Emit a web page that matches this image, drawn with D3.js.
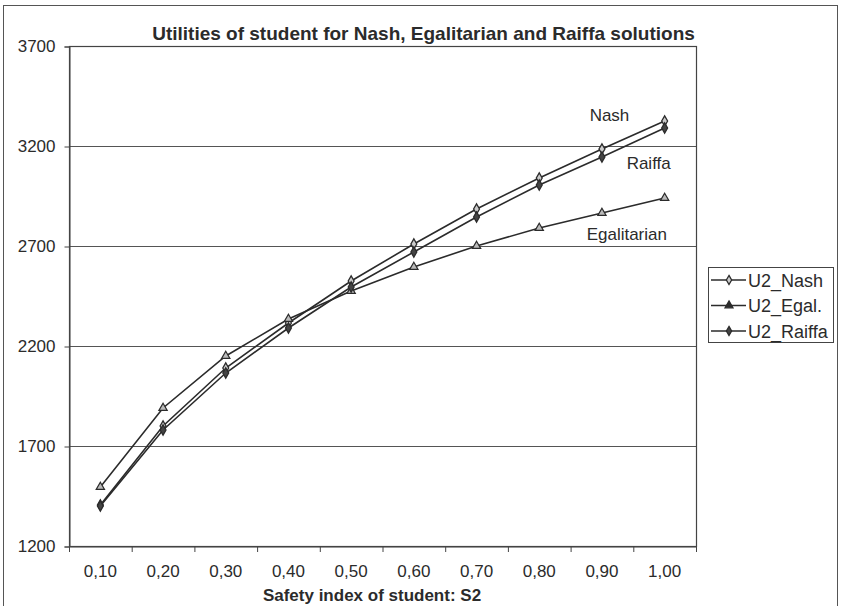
<!DOCTYPE html>
<html>
<head>
<meta charset="utf-8">
<script src="https://cdn.jsdelivr.net/npm/d3@7"></script>
<style>
  html, body { margin: 0; padding: 0; background: #fff; }
  svg { display: block; font-family: Arial, "Liberation Sans", sans-serif; }
</style>
</head>
<body>
<svg id="chart" width="846" height="606"></svg>
<script>
// Safety index categories (x axis)
const categories = ["0,10", "0,20", "0,30", "0,40", "0,50", "0,60", "0,70", "0,80", "0,90", "1,00"];
// Utilities of the student for each bargaining solution
const nashValues   = [1405, 1800, 2090, 2315, 2525, 2710, 2885, 3040, 3185, 3325];
const egalValues   = [1495, 1890, 2150, 2335, 2475, 2595, 2700, 2790, 2865, 2940];
const raiffaValues = [1400, 1780, 2065, 2290, 2495, 2670, 2845, 3005, 3145, 3290];
const yTicks = [1200, 1700, 2200, 2700, 3200, 3700];
const seriesNames = ["U2_Nash", "U2_Egal.", "U2_Raiffa"];
const inlineLabels = ["Nash", "Egalitarian", "Raiffa"];

const svg = d3.select("#chart");
const ink = "#2b2b2b";
const font = "Arial, 'Liberation Sans', sans-serif";

// Outer chart frame
svg.append("rect")
  .attr("x", 3.5).attr("y", 5.5).attr("width", 834).attr("height", 610)
  .attr("fill", "none").attr("stroke", "#555").attr("stroke-width", 1);

const plot = { left: 69, top: 46, right: 696, bottom: 546 };

const x = d3.scaleBand().domain(categories).range([plot.left, plot.right]);
const y = d3.scaleLinear().domain([1200, 3700]).range([plot.bottom, plot.top]);

// Horizontal gridlines
svg.append("g").selectAll("line").data(yTicks.slice(1)).join("line")
  .attr("x1", plot.left).attr("x2", plot.right)
  .attr("y1", d => y(d) + 0.5).attr("y2", d => y(d) + 0.5)
  .attr("stroke", "#555").attr("stroke-width", 1);

// Plot area border
svg.append("rect")
  .attr("x", plot.left + 0.5).attr("y", plot.top + 0.5)
  .attr("width", plot.right - plot.left).attr("height", plot.bottom - plot.top)
  .attr("fill", "none").attr("stroke", "#444").attr("stroke-width", 1.2);

// Y axis
const yAxis = svg.append("g")
  .attr("transform", `translate(${plot.left + 0.5},0.5)`)
  .call(d3.axisLeft(y).tickValues(yTicks).tickSize(5).tickPadding(9).tickFormat(d3.format("d")));
yAxis.select(".domain").attr("stroke", "#444");
yAxis.selectAll(".tick line").attr("stroke", "#444");
yAxis.selectAll("text").attr("fill", ink).style("font-size", "17px").style("font-family", font);

// X axis: ticks at category boundaries
const xAxis = svg.append("g")
  .attr("transform", `translate(0,${plot.bottom + 0.5})`)
  .call(d3.axisBottom(x).tickSize(0).tickPadding(18));
xAxis.select(".domain").attr("stroke", "#444");
xAxis.selectAll("text").attr("fill", ink).style("font-size", "17px").style("font-family", font);
const boundaries = categories.map(c => x(c)).concat([x(categories[categories.length - 1]) + x.bandwidth()]);
svg.append("g").selectAll("line").data(boundaries).join("line")
  .attr("x1", d => d + 0.5).attr("x2", d => d + 0.5)
  .attr("y1", plot.bottom).attr("y2", plot.bottom + 6)
  .attr("stroke", "#444");

// Title and axis title
svg.append("text")
  .attr("x", 423.5).attr("y", 40).attr("text-anchor", "middle")
  .attr("fill", ink).style("font-size", "19px").style("font-weight", "bold")
  .text("Utilities of student for Nash, Egalitarian and Raiffa solutions");
svg.append("text")
  .attr("x", 372).attr("y", 601).attr("text-anchor", "middle")
  .attr("fill", ink).style("font-size", "17px").style("font-weight", "bold")
  .text("Safety index of student: S2");

// Series
const series = [
  { name: seriesNames[0], values: nashValues, marker: "diamond-open" },
  { name: seriesNames[1], values: egalValues, marker: "triangle" },
  { name: seriesNames[2], values: raiffaValues, marker: "diamond" }
];
const cx = c => x(c) + x.bandwidth() / 2;
const line = d3.line().x((d, i) => cx(categories[i])).y(d => y(d));

function drawMarker(g, type, px, py, legend) {
  if (type === "triangle") {
    g.append("path")
      .attr("d", d3.symbol(d3.symbolTriangle, legend ? 28 : 30)())
      .attr("transform", `translate(${px},${py})`)
      .attr("fill", legend ? ink : "#bbb").attr("stroke", ink).attr("stroke-width", 1.2);
  } else {
    g.append("path")
      .attr("d", d3.symbol(d3.symbolDiamond, legend ? 24 : 30)())
      .attr("transform", `translate(${px},${py})`)
      .attr("fill", type === "diamond" ? "#444" : "#ccc")
      .attr("stroke", ink).attr("stroke-width", 1.3);
  }
}

series.forEach(s => {
  const g = svg.append("g");
  g.append("path").datum(s.values)
    .attr("d", line).attr("fill", "none")
    .attr("stroke", ink).attr("stroke-width", 1.6);
  s.values.forEach((v, i) => drawMarker(g, s.marker, cx(categories[i]), y(v), false));
});

// Inline series labels near the right end
const last = categories.length - 1;
const labelPos = [
  { text: inlineLabels[0], dx: -75, val: nashValues[last], dy: 0 },
  { text: inlineLabels[1], dx: -78, val: egalValues[last], dy: 42 },
  { text: inlineLabels[2], dx: -38, val: raiffaValues[last], dy: 41 }
];
labelPos.forEach(l => {
  svg.append("text")
    .attr("x", cx(categories[last]) + l.dx).attr("y", y(l.val) + l.dy)
    .attr("fill", ink).style("font-size", "17px").text(l.text);
});

// Legend
const lg = svg.append("g");
lg.append("rect").attr("x", 708.5).attr("y", 267.5).attr("width", 125).attr("height", 75)
  .attr("fill", "#fff").attr("stroke", "#444");
series.forEach((s, i) => {
  const ly = 280 + i * 25.5;
  lg.append("line").attr("x1", 711).attr("x2", 746).attr("y1", ly).attr("y2", ly)
    .attr("stroke", ink).attr("stroke-width", 1.6);
  drawMarker(lg, s.marker, 729, ly, true);
  lg.append("text").attr("x", 748).attr("y", ly + 6.5)
    .attr("fill", ink).style("font-size", "18px").text(s.name);
});
</script>
</body>
</html>
